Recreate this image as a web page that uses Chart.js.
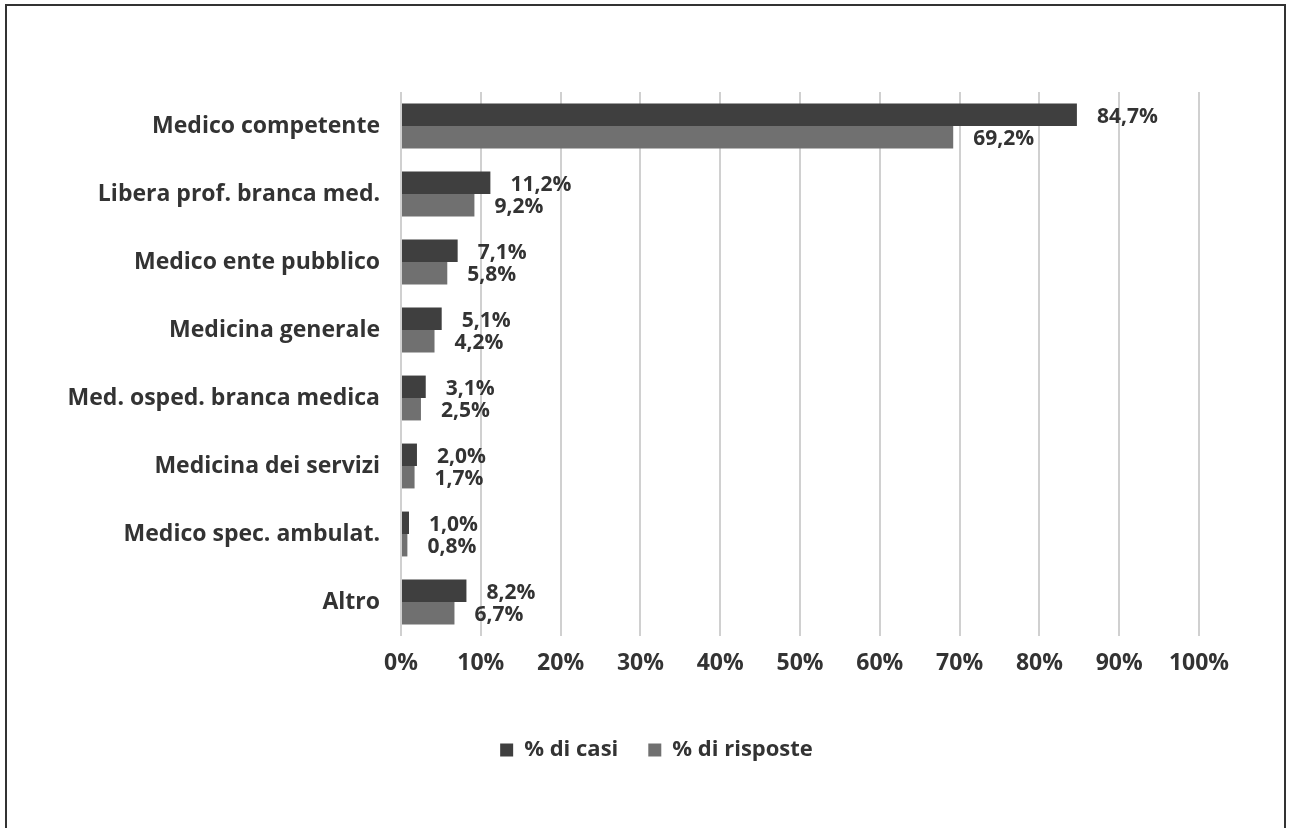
<!DOCTYPE html>
<html>
<head>
<meta charset="utf-8">
<script src="https://cdn.jsdelivr.net/npm/chart.js@4/dist/chart.umd.min.js"></script>
<style>
  html, body { margin: 0; padding: 0; background: #fff; overflow: hidden; }
  #wrap { position: relative; width: 1289px; height: 828px; }
  #frame { position: absolute; left: 5px; top: 4px; width: 1281px; height: 900px; border: 2px solid #333; box-sizing: border-box; pointer-events: none; }
  canvas { position: absolute; left: 0; top: 0; }
</style>
</head>
<body>
<div id="wrap">
  <canvas id="chart" width="1289" height="828"></canvas>
  <div id="frame"></div>
</div>
<script>
// data
const categories = [
    'Medico competente',
    'Libera prof. branca med.',
    'Medico ente pubblico',
    'Medicina generale',
    'Med. osped. branca medica',
    'Medicina dei servizi',
    'Medico spec. ambulat.',
    'Altro'
];
const casi = [84.7, 11.2, 7.1, 5.1, 3.1, 2.0, 1.0, 8.2];
const risposte = [69.2, 9.2, 5.8, 4.2, 2.5, 1.7, 0.8, 6.7];
const seriesNames = ['% di casi', '% di risposte'];

const textColor = '#333333';
const fontFamily = '"Open Sans", "DejaVu Sans", sans-serif';

// value labels to the right of each bar
const barLabels = {
    id: 'barLabels',
    afterLayout(chart) {
        // legend is centred a bit right of the canvas middle
        chart.legend.left = 114;
    },
    afterDatasetsDraw(chart) {
        const ctx = chart.ctx;
        ctx.save();
        ctx.font = 'bold 21px ' + fontFamily;
        ctx.fillStyle = textColor;
        ctx.textAlign = 'left';
        ctx.textBaseline = 'middle';
        chart.data.datasets.forEach((ds, i) => {
            chart.getDatasetMeta(i).data.forEach((bar, j) => {
                const txt = ds.data[j].toFixed(1).replace('.', ',') + '%';
                ctx.fillText(txt, bar.x + 20, bar.y + 2);
            });
        });
        ctx.restore();
    }
};

const ctx = document.getElementById('chart').getContext('2d');
new Chart(ctx, {
    type: 'bar',
    data: {
        labels: categories,
        datasets: [{
            label: seriesNames[0],
            data: casi,
            backgroundColor: '#3f3f3f',
            categoryPercentage: 0.66,
            barPercentage: 1.0
        }, {
            label: seriesNames[1],
            data: risposte,
            backgroundColor: '#707070',
            categoryPercentage: 0.66,
            barPercentage: 1.0
        }]
    },
    plugins: [barLabels],
    options: {
        indexAxis: 'y',
        responsive: false,
        animation: false,
        layout: {
            padding: { top: 92, left: 0, right: 90, bottom: 57 }
        },
        scales: {
            x: {
                min: 0,
                max: 100,
                ticks: {
                    stepSize: 10,
                    padding: 14,
                    color: textColor,
                    font: { family: fontFamily, size: 23, weight: 'bold' },
                    callback: v => v + '%'
                },
                grid: { color: '#d0d0d0', lineWidth: 2, drawTicks: false },
                border: { display: false },
                afterFit: s => { s.height = 73; }
            },
            y: {
                ticks: {
                    padding: 21,
                    color: textColor,
                    font: { family: fontFamily, size: 23, weight: 'bold' }
                },
                grid: { display: false, drawTicks: false },
                border: { display: false },
                afterFit: s => { s.width = 401; }
            }
        },
        plugins: {
            legend: {
                position: 'bottom',
                labels: {
                    boxWidth: 13,
                    boxHeight: 13,
                    padding: 30,
                    color: textColor,
                    font: { family: fontFamily, size: 22, weight: 'bold' }
                }
            },
            tooltip: { enabled: false }
        }
    }
});
</script>
</body>
</html>
